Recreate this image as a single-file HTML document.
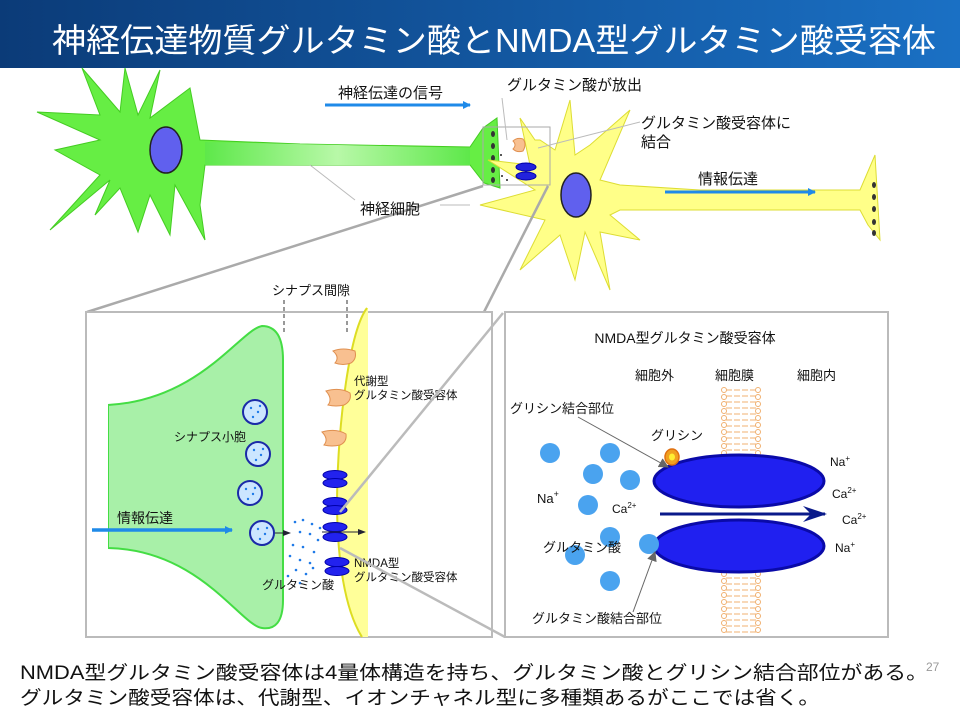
<!DOCTYPE html>
<html><head><meta charset="utf-8"><style>
body{margin:0;width:960px;height:720px;overflow:hidden;background:#fff;font-family:"Liberation Sans","Noto Sans CJK JP",sans-serif;}
svg text{font-family:"Liberation Sans","Noto Sans CJK JP",sans-serif;}
</style></head><body>
<svg width="960" height="720" viewBox="0 0 960 720" xmlns="http://www.w3.org/2000/svg">
<defs>
<linearGradient id="tb" x1="0" x2="1" y1="0" y2="0"><stop offset="0" stop-color="#0b3b78"/><stop offset="1" stop-color="#1a70c4"/></linearGradient>
<linearGradient id="ax" x1="0" x2="1"><stop offset="0" stop-color="#5ee84a"/><stop offset="0.5" stop-color="#b8f8a8"/><stop offset="1" stop-color="#5ee84a"/></linearGradient>
<marker id="ab" markerWidth="8" markerHeight="8" refX="7" refY="4" orient="auto" markerUnits="userSpaceOnUse"><path d="M0,0 L8,4 L0,8 Z" fill="#1f8ae8"/></marker>
<marker id="an" markerWidth="24" markerHeight="16" refX="22" refY="8" orient="auto" markerUnits="userSpaceOnUse"><path d="M0,0 L24,8 L0,16 L8,8 Z" fill="#0a1a8a"/></marker>
<marker id="ag" markerWidth="10" markerHeight="10" refX="9" refY="5" orient="auto" markerUnits="userSpaceOnUse"><path d="M0,0 L10,5 L0,10 Z" fill="#666"/></marker>
<marker id="as" markerWidth="8" markerHeight="6" refX="7" refY="3" orient="auto" markerUnits="userSpaceOnUse"><path d="M0,0 L8,3 L0,6 Z" fill="#223"/></marker>
</defs>
<rect x="0" y="0" width="960" height="68" fill="url(#tb)"/>
<text x="52" y="52" font-size="33" fill="#fff" textLength="884" lengthAdjust="spacingAndGlyphs">神経伝達物質グルタミン酸とNMDA型グルタミン酸受容体</text>

<path d="M37,112 L100,115 L82,68 L120,112 L125,68 L138,115 L160,70 L150,118 L190,88 L200,140 L300,144 L470,147 L483,128 L497,118 L500,188 L484,183 L470,165 L300,165 L205,165 L200,205 L205,240 L175,185 L170,235 L150,195 L138,232 L120,188 L95,215 L110,180 L50,230 L100,175 L55,150 L100,140 Z" fill="#66ee44" stroke="#44cc22" stroke-width="1"/>
<path d="M205,142 L470,148 L470,165 L205,165 Z" fill="url(#ax)"/>
<ellipse cx="166" cy="150" rx="16" ry="23" fill="#6060ee" stroke="#222" stroke-width="1.5"/>
<g fill="#333"><ellipse cx="493" cy="134" rx="2" ry="3"/><ellipse cx="493" cy="146" rx="2" ry="3"/><ellipse cx="493" cy="158" rx="2" ry="3"/><ellipse cx="493" cy="170" rx="2" ry="3"/><ellipse cx="493" cy="180" rx="2" ry="3"/></g>
<g fill="#222"><circle cx="503" cy="163" r="1"/><circle cx="506" cy="170" r="1"/><circle cx="502" cy="176" r="1"/><circle cx="507" cy="180" r="1"/><circle cx="501" cy="155" r="1"/></g>

<path d="M520,118 L535,140 L540,140 L555,150 L570,100 L575,155 L590,145 L630,110 L600,180 L620,185 L700,190 L860,190 L875,155 L880,240 L868,225 L860,210 L700,210 L620,210 L610,215 L640,240 L600,232 L610,290 L585,232 L575,280 L560,235 L520,270 L545,220 L480,205 L535,190 L488,160 L530,165 Z" fill="#ffff88" stroke="#dddd33" stroke-width="1"/>
<ellipse cx="576" cy="195" rx="15" ry="22" fill="#6060ee" stroke="#222" stroke-width="1.5"/>
<g fill="#333"><ellipse cx="874" cy="185" rx="2" ry="3"/><ellipse cx="874" cy="197" rx="2" ry="3"/><ellipse cx="874" cy="209" rx="2" ry="3"/><ellipse cx="874" cy="222" rx="2" ry="3"/><ellipse cx="874" cy="233" rx="2" ry="3"/></g>
<path d="M513,141 q4,-4 10,-2 q4,5 0,12 q-6,2 -10,-2 q4,-4 0,-8z" fill="#f8c090" stroke="#e09050"/>
<ellipse cx="526" cy="167" rx="10" ry="4" fill="#2222dd" stroke="#0000aa"/>
<ellipse cx="526" cy="176" rx="10" ry="4" fill="#2222dd" stroke="#0000aa"/>

<rect x="483" y="127" width="67" height="58" fill="none" stroke="#aaa" stroke-width="1"/>
<g stroke="#aaa" stroke-width="2.5"><line x1="483" y1="186" x2="87" y2="312"/><line x1="548" y1="186" x2="484" y2="312"/></g>
<g stroke="#bbb" stroke-width="1"><line x1="507" y1="140" x2="502" y2="98"/><line x1="538" y1="148" x2="640" y2="122"/><line x1="310" y1="165" x2="355" y2="200"/><line x1="440" y1="205" x2="470" y2="205"/></g>

<line x1="325" y1="105" x2="470" y2="105" stroke="#1f8ae8" stroke-width="3" marker-end="url(#ab)"/>
<text x="338" y="98" font-size="15" fill="#111">神経伝達の信号</text>
<text x="507" y="90" font-size="15" fill="#111">グルタミン酸が放出</text>
<text x="641" y="128" font-size="15" fill="#111">グルタミン酸受容体に</text>
<text x="641" y="147" font-size="15" fill="#111">結合</text>
<text x="360" y="214" font-size="15" fill="#111">神経細胞</text>
<line x1="665" y1="192" x2="815" y2="192" stroke="#1f8ae8" stroke-width="3" marker-end="url(#ab)"/>
<text x="698" y="184" font-size="15" fill="#111">情報伝達</text>

<rect x="86" y="312" width="406" height="325" fill="#fff" stroke="#bbb" stroke-width="2"/>
<text x="272" y="295" font-size="13" fill="#111">シナプス間隙</text>
<g stroke="#333" stroke-dasharray="4,3" stroke-width="1"><line x1="284" y1="300" x2="284" y2="335"/><line x1="347" y1="300" x2="347" y2="335"/></g>
<path d="M108,405 C200,400 240,330 262,326 C280,326 283,345 283,360 L283,600 C283,622 275,630 262,628 C240,625 200,550 108,548 Z" fill="#a8f0a8" stroke="#44dd44" stroke-width="2"/>
<rect x="87" y="404" width="21" height="146" fill="#fff"/>
<path d="M367,308 C350,330 338,420 337,500 C337,560 345,610 362,637 L368,637 L368,308 Z" fill="#ffff99"/>
<path d="M367,308 C350,330 338,420 337,500 C337,560 345,610 362,637" fill="none" stroke="#dddd22" stroke-width="2"/>
<g fill="#cce6ff" stroke="#1a2aa8" stroke-width="2"><circle cx="255" cy="412" r="12"/><circle cx="258" cy="454" r="12"/><circle cx="250" cy="493" r="12"/><circle cx="262" cy="533" r="12"/></g>
<g fill="#1f7ae8"><circle cx="251" cy="408" r="1.2"/><circle cx="258" cy="412" r="1.2"/><circle cx="253" cy="417" r="1.2"/><circle cx="260" cy="406" r="1.2"/><circle cx="254" cy="450" r="1.2"/><circle cx="261" cy="455" r="1.2"/><circle cx="256" cy="460" r="1.2"/><circle cx="263" cy="449" r="1.2"/><circle cx="246" cy="489" r="1.2"/><circle cx="253" cy="494" r="1.2"/><circle cx="248" cy="499" r="1.2"/><circle cx="255" cy="488" r="1.2"/><circle cx="258" cy="529" r="1.2"/><circle cx="265" cy="534" r="1.2"/><circle cx="260" cy="539" r="1.2"/><circle cx="267" cy="528" r="1.2"/>
<circle cx="295" cy="522" r="1.3"/><circle cx="303" cy="520" r="1.3"/><circle cx="312" cy="524" r="1.3"/><circle cx="300" cy="532" r="1.3"/><circle cx="310" cy="534" r="1.3"/><circle cx="318" cy="540" r="1.3"/><circle cx="293" cy="545" r="1.3"/><circle cx="303" cy="547" r="1.3"/><circle cx="314" cy="552" r="1.3"/><circle cx="290" cy="556" r="1.3"/><circle cx="300" cy="560" r="1.3"/><circle cx="310" cy="563" r="1.3"/><circle cx="296" cy="570" r="1.3"/><circle cx="306" cy="574" r="1.3"/><circle cx="288" cy="576" r="1.3"/><circle cx="300" cy="583" r="1.3"/><circle cx="320" cy="528" r="1.3"/><circle cx="313" cy="568" r="1.3"/></g>
<g fill="#f8c090" stroke="#e09050" stroke-width="1">
<path d="M333,351 q10,-4 22,0 q2,8 -4,12 q-8,3 -16,0 q5,-6 -2,-12z"/>
<path d="M326,391 q14,-4 24,2 q2,8 -6,12 q-8,2 -16,0 q5,-6 -2,-14z"/>
<path d="M322,432 q14,-4 24,2 q1,8 -6,11 q-8,2 -16,0 q5,-6 -2,-13z"/></g>
<g fill="#2222ee" stroke="#0000aa" stroke-width="1">
<ellipse cx="335" cy="475" rx="12" ry="4.5"/><ellipse cx="335" cy="483" rx="12" ry="4.5"/>
<ellipse cx="335" cy="502" rx="12" ry="4.5"/><ellipse cx="335" cy="510" rx="12" ry="4.5"/>
<ellipse cx="335" cy="527" rx="12" ry="4.5"/><ellipse cx="335" cy="537" rx="12" ry="4.5"/>
<ellipse cx="337" cy="562" rx="12" ry="4.5"/><ellipse cx="337" cy="571" rx="12" ry="4.5"/></g>
<line x1="322" y1="532" x2="365" y2="532" stroke="#223" stroke-width="1" marker-end="url(#as)"/>
<line x1="275" y1="533" x2="290" y2="533" stroke="#223" stroke-width="1" marker-end="url(#as)"/>
<line x1="92" y1="530" x2="232" y2="530" stroke="#1f8ae8" stroke-width="3.5" marker-end="url(#ab)"/>
<text x="117" y="523" font-size="14" fill="#111">情報伝達</text>
<text x="174" y="441" font-size="12" fill="#111">シナプス小胞</text>
<text x="262" y="589" font-size="12" fill="#111">グルタミン酸</text>
<text x="354" y="385" font-size="11.5" fill="#111">代謝型</text>
<text x="354" y="399" font-size="11.5" fill="#111">グルタミン酸受容体</text>
<text x="354" y="567" font-size="11.5" fill="#111">NMDA型</text>
<text x="354" y="581" font-size="11.5" fill="#111">グルタミン酸受容体</text>
<g stroke="#bbb" stroke-width="2.5"><line x1="340" y1="512" x2="503" y2="313"/><line x1="340" y1="548" x2="505" y2="637"/></g>

<rect x="505" y="312" width="383" height="325" fill="#fff" stroke="#bbb" stroke-width="2"/>
<text x="685" y="343" font-size="14" fill="#111" text-anchor="middle">NMDA型グルタミン酸受容体</text>
<text x="635" y="380" font-size="13" fill="#111">細胞外</text>
<text x="715" y="380" font-size="13" fill="#111">細胞膜</text>
<text x="797" y="380" font-size="13" fill="#111">細胞内</text>
<g fill="none" stroke="#f0b070" stroke-width="1">
<path d="M726,390 h30 M726,396 h30 M726,402 h30 M726,408 h30 M726,414 h30 M726,420 h30 M726,426 h30 M726,432 h30 M726,438 h30 M726,444 h30 M726,450 h30 M726,456 h30 M726,462 h30 M726,566 h30 M726,572 h30 M726,578 h30 M726,584 h30 M726,590 h30 M726,596 h30 M726,602 h30 M726,608 h30 M726,614 h30 M726,620 h30 M726,626 h30 M726,632 h30" stroke-dasharray="6,2"/>
</g>
<g fill="#fff" stroke="#f0b070" stroke-width="1">
<circle cx="724" cy="390" r="2.5"/><circle cx="758" cy="390" r="2.5"/><circle cx="724" cy="397" r="2.5"/><circle cx="758" cy="397" r="2.5"/><circle cx="724" cy="404" r="2.5"/><circle cx="758" cy="404" r="2.5"/><circle cx="724" cy="411" r="2.5"/><circle cx="758" cy="411" r="2.5"/><circle cx="724" cy="418" r="2.5"/><circle cx="758" cy="418" r="2.5"/><circle cx="724" cy="425" r="2.5"/><circle cx="758" cy="425" r="2.5"/><circle cx="724" cy="432" r="2.5"/><circle cx="758" cy="432" r="2.5"/><circle cx="724" cy="439" r="2.5"/><circle cx="758" cy="439" r="2.5"/><circle cx="724" cy="446" r="2.5"/><circle cx="758" cy="446" r="2.5"/><circle cx="724" cy="453" r="2.5"/><circle cx="758" cy="453" r="2.5"/><circle cx="724" cy="460" r="2.5"/><circle cx="758" cy="460" r="2.5"/>
<circle cx="724" cy="567" r="2.5"/><circle cx="758" cy="567" r="2.5"/><circle cx="724" cy="574" r="2.5"/><circle cx="758" cy="574" r="2.5"/><circle cx="724" cy="581" r="2.5"/><circle cx="758" cy="581" r="2.5"/><circle cx="724" cy="588" r="2.5"/><circle cx="758" cy="588" r="2.5"/><circle cx="724" cy="595" r="2.5"/><circle cx="758" cy="595" r="2.5"/><circle cx="724" cy="602" r="2.5"/><circle cx="758" cy="602" r="2.5"/><circle cx="724" cy="609" r="2.5"/><circle cx="758" cy="609" r="2.5"/><circle cx="724" cy="616" r="2.5"/><circle cx="758" cy="616" r="2.5"/><circle cx="724" cy="623" r="2.5"/><circle cx="758" cy="623" r="2.5"/><circle cx="724" cy="630" r="2.5"/><circle cx="758" cy="630" r="2.5"/></g>
<ellipse cx="739" cy="481" rx="85" ry="26" fill="#2020f0" stroke="#0a0aa8" stroke-width="3"/>
<ellipse cx="739" cy="546" rx="85" ry="26" fill="#2020f0" stroke="#0a0aa8" stroke-width="3"/>
<line x1="660" y1="514" x2="825" y2="514" stroke="#0a1a8a" stroke-width="3" marker-end="url(#an)"/>
<g fill="#4aa3ef"><circle cx="550" cy="453" r="10"/><circle cx="610" cy="453" r="10"/><circle cx="593" cy="474" r="10"/><circle cx="630" cy="480" r="10"/><circle cx="588" cy="505" r="10"/><circle cx="610" cy="537" r="10"/><circle cx="575" cy="555" r="10"/><circle cx="610" cy="581" r="10"/><circle cx="649" cy="544" r="10"/></g>
<ellipse cx="672" cy="457" rx="7" ry="8" fill="#f0a020" stroke="#e07010" stroke-width="1.5"/><ellipse cx="672" cy="457" rx="3" ry="3.5" fill="#ffee33"/>
<line x1="578" y1="417" x2="668" y2="467" stroke="#666" stroke-width="1" marker-end="url(#ag)"/>
<line x1="633" y1="612" x2="655" y2="552" stroke="#666" stroke-width="1" marker-end="url(#ag)"/>
<text x="510" y="413" font-size="13" fill="#111">グリシン結合部位</text>
<text x="651" y="440" font-size="13" fill="#111">グリシン</text>
<text x="537" y="503" font-size="13" fill="#111">Na<tspan font-size="9" dy="-6">+</tspan></text>
<text x="612" y="513" font-size="12" fill="#111">Ca<tspan font-size="8" dy="-5">2+</tspan></text>
<text x="543" y="552" font-size="13" fill="#111">グルタミン酸</text>
<text x="532" y="623" font-size="13" fill="#111">グルタミン酸結合部位</text>
<text x="830" y="466" font-size="12" fill="#111">Na<tspan font-size="8" dy="-5">+</tspan></text>
<text x="832" y="498" font-size="12" fill="#111">Ca<tspan font-size="8" dy="-5">2+</tspan></text>
<text x="842" y="524" font-size="12" fill="#111">Ca<tspan font-size="8" dy="-5">2+</tspan></text>
<text x="835" y="552" font-size="12" fill="#111">Na<tspan font-size="8" dy="-5">+</tspan></text>

<text x="20" y="679" font-size="19" fill="#111" textLength="908" lengthAdjust="spacingAndGlyphs">NMDA型グルタミン酸受容体は4量体構造を持ち、グルタミン酸とグリシン結合部位がある。</text>
<text x="20" y="704" font-size="19" fill="#111" textLength="800" lengthAdjust="spacingAndGlyphs">グルタミン酸受容体は、代謝型、イオンチャネル型に多種類あるがここでは省く。</text>
<text x="926" y="671" font-size="12" fill="#999">27</text>
</svg>
</body></html>
